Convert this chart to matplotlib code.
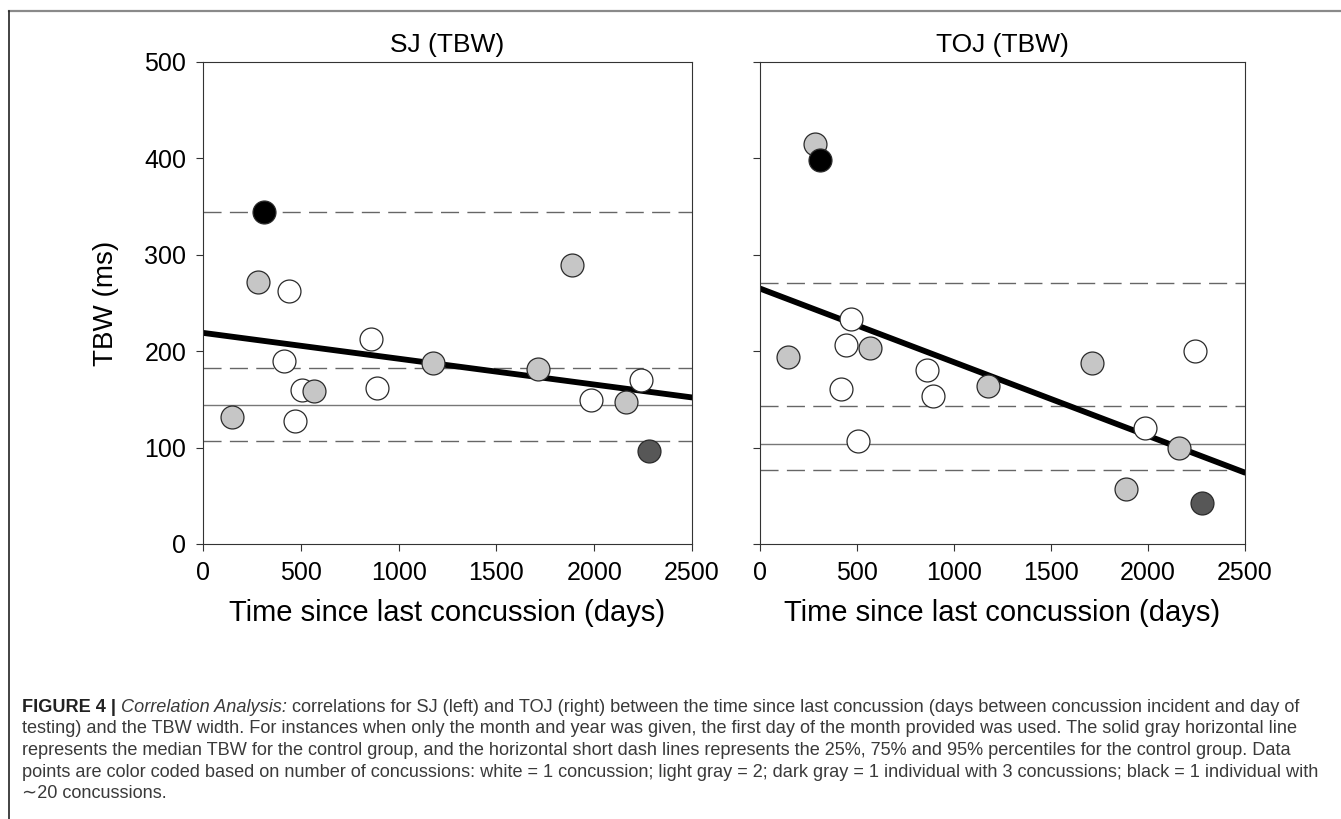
import matplotlib
matplotlib.use("Agg")
import matplotlib.pyplot as plt
from matplotlib.lines import Line2D
from matplotlib.text import Annotation

# days since last concussion (same subjects in both panels)
days = [147, 283, 312, 416, 441, 469, 504, 566, 860, 890, 1175, 1712, 1888, 1985, 2162, 2241, 2278]
# number-of-concussions group: 1 = white, 2 = light gray, 3 = dark gray, 20 = black
groups = [2, 2, 20, 1, 1, 1, 1, 2, 1, 1, 2, 2, 2, 1, 2, 1, 3]
sj_tbw = [132, 272, 344, 190, 262, 128, 160, 159, 213, 162, 188, 182, 289, 149, 147, 170, 96]
toj_tbw = [194, 415, 398, 161, 206, 233, 107, 203, 181, 153, 164, 188, 57, 120, 100, 200, 43]

# regression line end points (at 0 and 2500 days)
fit_x = [0, 2500]
sj_fit = [219, 152]
toj_fit = [265, 74]

# control group percentiles: 25%, median, 75%, 95%
sj_ctrl = [107, 144, 183, 344]
toj_ctrl = [77, 104, 143, 271]

panel_titles = ["SJ (TBW)", "TOJ (TBW)"]
x_ticks = [0, 500, 1000, 1500, 2000, 2500]
y_ticks = [0, 100, 200, 300, 400, 500]

caption_head = ["FIGURE 4 |", " Correlation Analysis:",
                " correlations for SJ (left) and TOJ (right) between the time since last concussion (days between concussion incident and day of"]
caption_lines = [
    "testing) and the TBW width. For instances when only the month and year was given, the first day of the month provided was used. The solid gray horizontal line",
    "represents the median TBW for the control group, and the horizontal short dash lines represents the 25%, 75% and 95% percentiles for the control group. Data",
    "points are color coded based on number of concussions: white = 1 concussion; light gray = 2; dark gray = 1 individual with 3 concussions; black = 1 individual with",
    "\u223c20 concussions.",
]

colors = {1: "white", 2: "#c6c6c6", 3: "#575757", 20: "black"}

plt.rcParams["font.family"] = ["Liberation Sans", "DejaVu Sans"]

fig = plt.figure(figsize=(13.41, 8.19), dpi=100)
ax1 = fig.add_axes([0.1514, 0.3358, 0.3647, 0.5885])
ax2 = fig.add_axes([0.5667, 0.3358, 0.3617, 0.5885])

for ax, vals, fit, ctrl, title in [(ax1, sj_tbw, sj_fit, sj_ctrl, panel_titles[0]),
                                   (ax2, toj_tbw, toj_fit, toj_ctrl, panel_titles[1])]:
    p25, med, p75, p95 = ctrl
    for yv in (p25, p75, p95):
        ax.axhline(yv, color="#666666", lw=1.0, dashes=(13, 6), zorder=1)
    ax.axhline(med, color="#777777", lw=1.0, zorder=1)
    ax.plot(fit_x, fit, color="black", lw=4.2, solid_capstyle="round", zorder=2)
    for d, v, g in zip(days, vals, groups):
        ax.plot(d, v, "o", ms=16.5, mfc=colors[g], mec="#2a2a2a", mew=0.9, zorder=3)
    ax.set_xlim(0, 2500)
    ax.set_ylim(0, 500)
    ax.set_xticks(x_ticks)
    ax.set_yticks(y_ticks)
    ax.tick_params(direction="out", length=5, width=0.8, color="#333333", labelsize=18, pad=7)
    for s in ax.spines.values():
        s.set_color("#333333")
        s.set_linewidth(0.8)
    ax.set_xlabel("Time since last concussion (days)", fontsize=21, labelpad=10)
    ax.set_title(title, fontsize=19, pad=7)

ax1.set_ylabel("TBW (ms)", fontsize=20, labelpad=18)
ax2.tick_params(axis="y", labelleft=False)

# figure frame: gray rule on top, black rule on the left
fig.add_artist(Line2D([9 / 1341, 1], [1 - 11 / 819, 1 - 11 / 819], transform=fig.transFigure,
                      color="#8a8a8a", lw=1.6))
fig.add_artist(Line2D([9 / 1341, 9 / 1341], [0, 1 - 11 / 819], transform=fig.transFigure,
                      color="#222222", lw=1.2))

# caption: size chosen so the longest line spans the same width as in the figure
cap_font = ["Liberation Sans", "DejaVu Sans"]
cap_color = "#3a3a3a"
renderer = fig.canvas.get_renderer()
probe = fig.text(0, 0, caption_lines[2], fontsize=10, family=cap_font)
cap_size = 10 * (1327 - 22) / probe.get_window_extent(renderer).width
probe.remove()

x0 = 22 / 1341
y0 = 1 - 707 / 819
step = 21.7 / 819
t = fig.text(x0, y0, caption_head[0], fontsize=cap_size, fontweight="bold", family=cap_font,
             color="#222222", va="center")
t = fig.add_artist(Annotation(caption_head[1], xy=(1, 0), xycoords=t, va="bottom", fontsize=cap_size,
                              style="italic", family=cap_font, color=cap_color))
fig.add_artist(Annotation(caption_head[2], xy=(1, 0), xycoords=t, va="bottom", fontsize=cap_size,
                          family=cap_font, color=cap_color))
for i, line in enumerate(caption_lines):
    fig.text(x0, y0 - (i + 1) * step, line, fontsize=cap_size, family=cap_font, color=cap_color,
             va="center")

fig.savefig("out.png", dpi=100)
